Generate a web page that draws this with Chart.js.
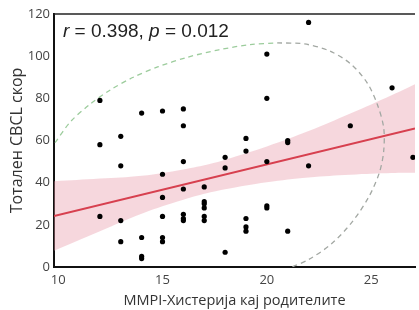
<!DOCTYPE html>
<html>
<head>
<meta charset="utf-8">
<script src="https://cdn.jsdelivr.net/npm/chart.js@4/dist/chart.umd.min.js"></script>
<style>
  html, body { margin: 0; padding: 0; background: #fff; }
  #wrap { width: 419px; height: 310px; }
</style>
</head>
<body>
<div id="wrap"><canvas id="canvas"></canvas></div>
<script>
// scatter points: MMPI hysteria score (x) vs total CBCL score (y)
const xVals = [12, 12, 12, 13, 13, 13, 13, 14, 14, 14, 14,
    15, 15, 15, 15, 15, 15, 16, 16, 16, 16, 16, 16, 16,
    17, 17, 17, 17, 17, 17, 18, 18, 18, 19, 19, 19, 19, 19,
    20, 20, 20, 20, 20, 21, 21, 21, 22, 22, 24, 26, 27];
const yVals = [79, 58, 24, 62, 48, 22, 12, 73, 14, 5, 4,
    74, 44, 33, 24, 14, 12, 75, 67, 50, 37, 25, 23, 22,
    38, 31, 30, 28, 24, 22, 52, 47, 7, 61, 55, 23, 19, 17,
    101, 80, 50, 29, 28, 60, 59, 17, 116, 48, 67, 85, 52];

// regression line and its confidence band
const fitX = [9.8, 27.1];
const fitY = [24.2, 65.7];
const bandX = [9.8, 12, 14, 16, 17.3, 18, 20, 22, 24, 26, 27.1];
const bandUpper = [40.7, 42, 43.3, 46.3, 49, 50.9, 57.2, 64.5, 72.8, 81.6, 86.7];
const bandLower = [7.7, 17, 25.3, 31.9, 35.4, 36.9, 40.2, 42.5, 43.8, 44.6, 44.7];

// dashed ellipse, left/top part (green) and right part (grey)
const ellGreenX = [9.85, 10.6, 11.5, 12.5, 13.6, 14.8, 16.2, 17.7, 19.2, 20.5];
const ellGreenY = [59, 69, 77, 84, 90, 95, 99.5, 103, 105.5, 106.3];
const ellGreyX = [20.5, 21.8, 23, 24, 24.8, 25.3, 25.6, 25.6, 25.4, 24.9, 24.1, 23.1, 22, 21.2];
const ellGreyY = [106.3, 105.8, 102.5, 96.5, 87.5, 77, 66, 55, 45, 33.5, 21.5, 11, 3.5, 0];

const xTicks = [10, 15, 20, 25];
const yTicks = [0, 20, 40, 60, 80, 100, 120];

const pts = (xs, ys) => xs.map((x, i) => ({x: x, y: ys[i]}));

const topLine = {
    id: 'topLine',
    afterDraw(chart) {
        const ctx = chart.ctx;
        const a = chart.chartArea;
        ctx.save();
        ctx.strokeStyle = '#222';
        ctx.lineWidth = 1.5;
        ctx.beginPath();
        ctx.moveTo(a.left, a.top);
        ctx.lineTo(a.right, a.top);
        ctx.stroke();
        // r / p annotation
        ctx.fillStyle = '#222';
        ctx.textBaseline = 'alphabetic';
        let x = a.left + 9;
        const y = 37;
        const parts = [
            ['italic 19px "Liberation Sans"', 'r'],
            ['19px "Liberation Sans"', ' = 0.398, '],
            ['italic 19px "Liberation Sans"', 'p'],
            ['19px "Liberation Sans"', ' = 0.012']
        ];
        parts.forEach(p => {
            ctx.font = p[0];
            ctx.fillText(p[1], x, y);
            x += ctx.measureText(p[1]).width;
        });
        ctx.restore();
    }
};

new Chart(document.getElementById('canvas'), {
    type: 'scatter',
    data: {
        datasets: [
            {
                data: pts(bandX, bandUpper),
                showLine: true,
                borderWidth: 0,
                borderColor: 'rgba(0,0,0,0)',
                backgroundColor: 'rgba(232,150,165,0.38)',
                pointRadius: 0,
                tension: 0.4,
                fill: '+1',
                order: 5
            },
            {
                data: pts(bandX, bandLower),
                showLine: true,
                borderWidth: 0,
                borderColor: 'rgba(0,0,0,0)',
                pointRadius: 0,
                tension: 0.4,
                fill: false,
                order: 5
            },
            {
                data: pts(ellGreenX, ellGreenY),
                showLine: true,
                borderColor: '#9ccc9c',
                borderWidth: 1.3,
                borderDash: [5, 4],
                pointRadius: 0,
                tension: 0.3,
                fill: false,
                order: 4
            },
            {
                data: pts(ellGreyX, ellGreyY),
                showLine: true,
                borderColor: '#a3a8a3',
                borderWidth: 1.3,
                borderDash: [5, 4],
                pointRadius: 0,
                tension: 0.3,
                fill: false,
                order: 4
            },
            {
                data: pts(fitX, fitY),
                showLine: true,
                borderColor: '#d7404f',
                borderWidth: 2,
                pointRadius: 0,
                fill: false,
                order: 3
            },
            {
                data: pts(xVals, yVals),
                backgroundColor: '#000',
                borderColor: '#000',
                pointRadius: 2.6,
                borderWidth: 0,
                order: 1
            }
        ]
    },
    options: {
        responsive: true,
        maintainAspectRatio: false,
        animation: false,
        layout: { padding: { top: 14, right: 0, left: 8, bottom: 0 } },
        plugins: {
            legend: { display: false },
            tooltip: { enabled: false }
        },
        scales: {
            x: {
                type: 'linear',
                min: 9.8,
                max: 27.1,
                afterBuildTicks: (s) => { s.ticks = xTicks.map(v => ({value: v})); },
                afterFit: (s) => { s.height = 43; },
                grid: { display: false, drawTicks: false },
                border: { display: true, color: '#111', width: 2 },
                ticks: { color: '#444', font: { family: 'Open Sans', size: 13 }, padding: 5 },
                title: {
                    display: true,
                    text: 'MMPI-Хистерија кај родителите',
                    color: '#333',
                    font: { family: 'Open Sans', size: 14.5 },
                    padding: { top: 0, bottom: 0 }
                }
            },
            y: {
                type: 'linear',
                min: 0,
                max: 120,
                afterBuildTicks: (s) => { s.ticks = yTicks.map(v => ({value: v})); },
                afterFit: (s) => { s.width = 46; },
                grid: { display: false, drawTicks: false },
                border: { display: true, color: '#111', width: 2 },
                ticks: { color: '#444', font: { family: 'Open Sans', size: 13 }, padding: 4 },
                title: {
                    display: true,
                    text: 'Тотален CBCL скор',
                    color: '#333',
                    font: { family: 'Open Sans', size: 16 },
                    padding: { top: 0, bottom: 0 }
                }
            }
        }
    },
    plugins: [topLine]
});
</script>
</body>
</html>
